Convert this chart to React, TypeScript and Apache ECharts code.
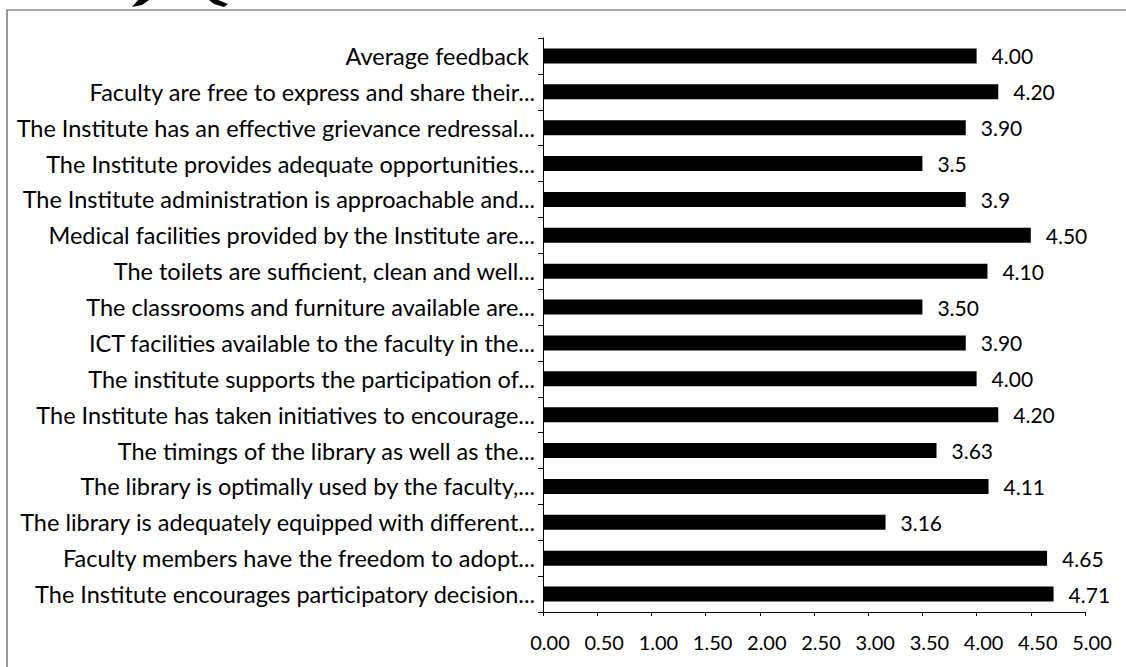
import React, { useEffect, useRef } from "react";
import * as echarts from "echarts";

const categories = [
  "Average feedback ",
  "Faculty are free to express and share their...",
  "The Institute has an effective grievance redressal...",
  "The Institute provides adequate opportunities...",
  "The Institute administration is approachable and...",
  "Medical facilities provided by the Institute are...",
  "The toilets are sufficient, clean and well...",
  "The classrooms and furniture available are...",
  "ICT facilities available to the faculty in the...",
  "The institute supports the participation of...",
  "The Institute has taken initiatives to encourage...",
  "The timings of the library as well as the...",
  "The library is optimally used by the faculty,...",
  "The library is adequately equipped with different...",
  "Faculty members have the freedom to adopt...",
  "The Institute encourages participatory decision...",
];

const values = [4.0, 4.2, 3.9, 3.5, 3.9, 4.5, 4.1, 3.5, 3.9, 4.0, 4.2, 3.63, 4.11, 3.16, 4.65, 4.71];

const valueLabels = [
  "4.00", "4.20", "3.90", "3.5", "3.9", "4.50", "4.10", "3.50",
  "3.90", "4.00", "4.20", "3.63", "4.11", "3.16", "4.65", "4.71",
];

const FONT = "Lato";

export default function App() {
  const ref = useRef<HTMLDivElement>(null);
  useEffect(() => {
    if (!ref.current) return;
    const chart = echarts.init(ref.current, undefined, { renderer: "svg" });
    chart.setOption({
      animation: false,
      backgroundColor: "#ffffff",
      graphic: [
        {
          type: "rect",
          shape: { x: 7, y: 10, width: 1140, height: 700 },
          style: { fill: "none", stroke: "#555", lineWidth: 1.2 },
          silent: true,
        },
        {
          type: "polygon",
          shape: { points: [[132, 7], [138, 0], [149, 0], [142, 5]] },
          style: { fill: "#000" },
          silent: true,
        },
        {
          type: "polygon",
          shape: { points: [[209, 0], [218, 0], [228, 4], [224, 7], [214, 4]] },
          style: { fill: "#000" },
          silent: true,
        },
      ],
      grid: { left: 543, right: 41, top: 38, bottom: 55, containLabel: false },
      xAxis: {
        type: "value",
        min: 0,
        max: 5,
        interval: 0.5,
        splitLine: { show: false },
        axisLine: { show: true, lineStyle: { color: "#000", width: 1 } },
        axisTick: { show: true, length: 4, lineStyle: { color: "#000" } },
        axisLabel: {
          formatter: (v: number) => v.toFixed(2),
          color: "#000",
          fontFamily: FONT,
          fontSize: 20,
          margin: 20,
          padding: [0, 0, 0, 14],
        },
      },
      yAxis: {
        type: "category",
        data: categories,
        inverse: true,
        axisLine: { show: true, lineStyle: { color: "#000", width: 1 } },
        axisTick: { show: true, length: 5, lineStyle: { color: "#000" } },
        axisLabel: {
          color: "#000",
          fontFamily: FONT,
          fontSize: 23.5,
          margin: 8,
        },
      },
      series: [
        {
          type: "bar",
          data: values,
          barWidth: 15,
          itemStyle: { color: "#000" },
          label: {
            show: true,
            position: "right",
            distance: 15,
            color: "#000",
            fontFamily: FONT,
            fontSize: 21,
            formatter: (p: any) => valueLabels[p.dataIndex],
          },
        },
      ],
    });
    return () => chart.dispose();
  }, []);
  return (
    <div
      ref={ref}
      style={{ position: "fixed", left: 0, top: 0, width: 1126, height: 667 }}
    />
  );
}
